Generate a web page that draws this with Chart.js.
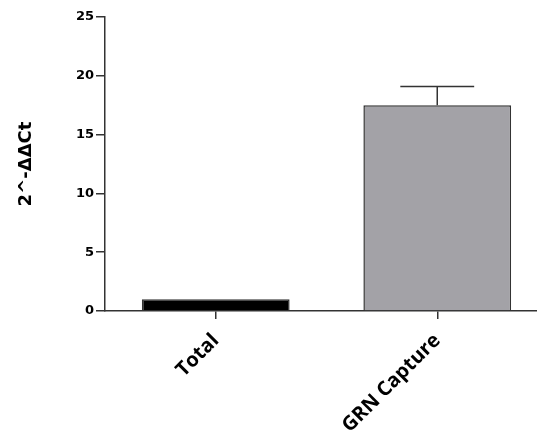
<!DOCTYPE html>
<html>
<head>
<meta charset="utf-8">
<script src="https://cdn.jsdelivr.net/npm/chart.js@4"></script>
<style>
  html, body { margin: 0; padding: 0; background: #fff; overflow: hidden; }
  #wrap { width: 548px; height: 434px; }
</style>
</head>
<body>
<div id="wrap"><canvas id="barChart" width="548" height="434"></canvas></div>
<script>
// data
const categories = ['Total', 'GRN Capture'];
const foldChange = [1.0, 17.5];
const errorUp = [0, 1.6];
const yTicks = [0, 5, 10, 15, 20, 25];

const axisColor = '#333';

// draws the upper error whisker with a cap
const errorBars = {
  id: 'errorBars',
  afterDatasetsDraw(chart) {
    const { ctx, scales: { y } } = chart;
    const meta = chart.getDatasetMeta(0);
    ctx.save();
    ctx.strokeStyle = axisColor;
    ctx.lineWidth = 1.5;
    meta.data.forEach((bar, i) => {
      if (!errorUp[i]) return;
      const top = y.getPixelForValue(foldChange[i] + errorUp[i]);
      const half = bar.width * 0.25;
      ctx.beginPath();
      ctx.moveTo(bar.x, bar.y);
      ctx.lineTo(bar.x, top);
      ctx.moveTo(bar.x - half, top);
      ctx.lineTo(bar.x + half, top);
      ctx.stroke();
    });
    ctx.restore();
  }
};

const ctx = document.getElementById('barChart').getContext('2d');

new Chart(ctx, {
  type: 'bar',
  data: {
    labels: categories,
    datasets: [{
      data: foldChange,
      backgroundColor: ['#000000', '#a3a2a7'],
      borderColor: axisColor,
      borderWidth: 1.5,
      borderSkipped: 'bottom',
      categoryPercentage: 1,
      barPercentage: 0.667
    }]
  },
  options: {
    responsive: false,
    animation: false,
    layout: { padding: { top: 17, right: 0, left: 0, bottom: 0 } },
    plugins: {
      legend: { display: false },
      tooltip: { enabled: false }
    },
    scales: {
      y: {
        min: 0,
        max: 25,
        afterBuildTicks: (scale) => { scale.ticks = yTicks.map(v => ({ value: v })); },
        afterFit: (scale) => { scale.width = 105; },
        border: { color: axisColor, width: 1.5 },
        grid: { drawOnChartArea: false, tickLength: 9, color: axisColor, lineWidth: 1.5 },
        ticks: {
          color: '#000',
          padding: 2,
          font: { family: 'DejaVu Sans', weight: 'bold', size: 13 }
        },
        title: {
          display: true,
          text: '2^-ΔΔCt',
          color: '#000',
          padding: { top: 16, bottom: 0 },
          font: { family: 'DejaVu Sans', weight: 'bold', size: 18 }
        }
      },
      x: {
        afterFit: (scale) => { scale.height = 123; },
        border: { color: axisColor, width: 1.5 },
        grid: { drawOnChartArea: false, tickLength: 8, color: axisColor, lineWidth: 1.5, offset: false },
        ticks: {
          color: '#000',
          minRotation: 45,
          maxRotation: 45,
          padding: 10,
          font: { family: 'Open Sans', weight: 'bold', size: 20 }
        }
      }
    }
  },
  plugins: [errorBars]
});
</script>
</body>
</html>
